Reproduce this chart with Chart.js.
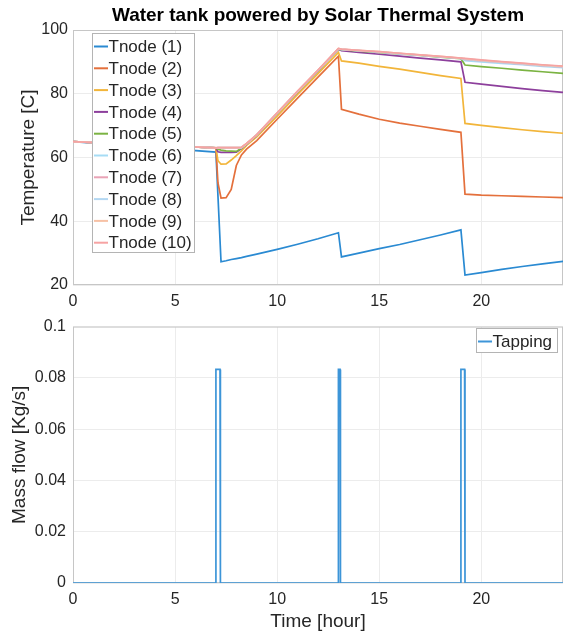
<!DOCTYPE html>
<html>
<head>
<meta charset="utf-8">
<script src="https://cdn.jsdelivr.net/npm/chart.js@4"></script>
<style>
  body { margin: 0; background: #fff; }
  .wrap { position: relative; width: 563px; height: 639px; }
  canvas { position: absolute; left: 0; }
  #temp-canvas { top: 0; }
  #flow-canvas { top: 310px; }
</style>
</head>
<body>
<div class="wrap">
  <canvas id="temp-canvas" width="563" height="310"></canvas>
  <canvas id="flow-canvas" width="563" height="329"></canvas>
</div>
<script>
// time grid shared by all tank nodes (hours)
const hours = [0, 7, 7.1, 7.25, 7.5, 7.75, 8, 8.25, 8.5, 9, 10, 11, 12, 13, 13.15, 14, 15, 16, 17, 18, 19, 19.2, 20, 21, 22, 23, 24]

// node temperatures [C]
const tnode1 = [65.0, 61.7, 47.9, 27.3, 27.6, 28.0, 28.3, 28.6, 29.0, 29.7, 31.2, 32.8, 34.5, 36.4, 28.8, 30.0, 31.4, 32.7, 34.2, 35.7, 37.3, 23.1, 23.9, 24.9, 25.8, 26.6, 27.4]
const tnode2 = [65.0, 63.0, 52.0, 47.3, 47.4, 50.0, 57.5, 60.8, 62.6, 65.3, 72.0, 78.6, 85.2, 91.8, 75.1, 73.6, 72.0, 70.8, 69.8, 68.8, 67.9, 48.5, 48.2, 48.0, 47.8, 47.6, 47.4]
const tnode3 = [65.0, 63.0, 59.0, 57.9, 58.0, 59.2, 60.6, 62.1, 63.8, 66.5, 73.0, 79.8, 86.3, 93.0, 90.3, 89.6, 88.6, 87.7, 86.7, 85.7, 84.8, 70.7, 70.1, 69.4, 68.7, 68.1, 67.6]
const tnode4 = [65.0, 63.0, 61.8, 61.6, 61.6, 61.6, 61.7, 62.8, 64.2, 67.0, 73.8, 80.6, 87.2, 94.0, 93.5, 93.0, 92.4, 91.8, 91.2, 90.6, 90.0, 83.6, 83.0, 82.3, 81.6, 81.0, 80.4]
const tnode5 = [65.0, 63.0, 62.6, 62.3, 62.1, 62.0, 61.9, 62.9, 64.2, 67.0, 73.8, 80.6, 87.2, 94.0, 93.8, 93.4, 93.0, 92.5, 92.0, 91.5, 91.0, 89.0, 88.5, 88.0, 87.4, 86.9, 86.4]
const tnode6 = [65.0, 63.0, 63.0, 63.0, 63.0, 63.0, 63.0, 63.0, 64.3, 67.1, 73.9, 80.7, 87.3, 94.1, 93.9, 93.5, 93.1, 92.6, 92.1, 91.6, 91.1, 90.4, 90.0, 89.5, 89.1, 88.6, 88.2]
const tnode7 = [65.0, 63.0, 63.1, 63.1, 63.1, 63.1, 63.1, 63.1, 64.3, 67.1, 73.9, 80.7, 87.3, 94.1, 93.9, 93.5, 93.1, 92.6, 92.1, 91.6, 91.1, 90.8, 90.3, 89.8, 89.3, 88.8, 88.4]
const tnode8 = [65.0, 63.0, 63.1, 63.1, 63.1, 63.1, 63.1, 63.1, 64.3, 67.1, 73.9, 80.7, 87.3, 94.1, 93.9, 93.5, 93.1, 92.6, 92.1, 91.6, 91.1, 90.9, 90.4, 89.9, 89.4, 88.9, 88.5]
const tnode9 = [65.0, 63.0, 63.1, 63.1, 63.1, 63.1, 63.1, 63.2, 64.4, 67.2, 74.0, 80.8, 87.4, 94.2, 94.0, 93.6, 93.2, 92.7, 92.2, 91.7, 91.2, 91.0, 90.5, 90.0, 89.5, 89.0, 88.6]
const tnode10 = [65.0, 63.0, 63.1, 63.1, 63.1, 63.1, 63.1, 63.2, 64.4, 67.2, 74.0, 80.8, 87.4, 94.2, 94.0, 93.6, 93.2, 92.7, 92.2, 91.7, 91.2, 91.1, 90.6, 90.1, 89.6, 89.1, 88.7]

const nodeLabels = ['Tnode (1)', 'Tnode (2)', 'Tnode (3)', 'Tnode (4)', 'Tnode (5)', 'Tnode (6)', 'Tnode (7)', 'Tnode (8)', 'Tnode (9)', 'Tnode (10)']
const nodeColors = ['#2a8ad2', '#e4703c', '#f2b53a', '#8d3f9c', '#7bb342', '#a6dcf5', '#e9a3b6', '#b3d7f2', '#f7c1a5', '#f6a3a3']
const nodeSeries = [tnode1, tnode2, tnode3, tnode4, tnode5, tnode6, tnode7, tnode8, tnode9, tnode10]

// tapping profile
const tapHours = [0, 6.98, 7.0, 7.2, 7.22, 12.98, 13.0, 13.08, 13.1, 18.98, 19.0, 19.18, 19.2, 24]
const tapFlow = [0, 0, 0.0833, 0.0833, 0, 0, 0.0833, 0.0833, 0, 0, 0.0833, 0.0833, 0, 0]

const tempTicks = [20, 40, 60, 80, 100]
const flowTicks = [0, 0.02, 0.04, 0.06, 0.08, 0.1]
const timeTicks = [0, 5, 10, 15, 20]

const FONT = '"Liberation Sans", Arial, sans-serif'
const TXT = '#262626'

// axes box (matlab style)
const frame = {
  id: 'frame',
  beforeDatasetsDraw(chart) {
    const { ctx, chartArea: a } = chart
    ctx.save()
    ctx.strokeStyle = '#c6c6c6'
    ctx.lineWidth = 1
    ctx.strokeRect(a.left + 0.5, a.top + 0.5, a.right - a.left - 1, a.bottom - a.top - 1)
    ctx.restore()
  },
}

// legend drawn inside the axes with a border
const boxLegend = {
  id: 'boxLegend',
  afterDatasetsDraw(chart, args, opts) {
    const ctx = chart.ctx
    ctx.save()
    ctx.fillStyle = '#fff'
    ctx.fillRect(opts.x, opts.y, opts.w, opts.h)
    ctx.strokeStyle = '#b4b4b4'
    ctx.lineWidth = 1
    ctx.strokeRect(opts.x + 0.5, opts.y + 0.5, opts.w, opts.h)
    ctx.font = '17px ' + FONT
    ctx.textBaseline = 'middle'
    chart.data.datasets.forEach((ds, i) => {
      const y = opts.first + i * opts.rowH
      ctx.strokeStyle = ds.borderColor
      ctx.lineWidth = 2
      ctx.beginPath()
      ctx.moveTo(opts.x + 2, y)
      ctx.lineTo(opts.x + 16, y)
      ctx.stroke()
      ctx.fillStyle = TXT
      ctx.fillText(ds.label, opts.x + 16.5, y + 1)
    })
    ctx.restore()
  },
}

function pts(xs, ys) {
  return xs.map((x, i) => ({ x: x, y: ys[i] }))
}

function xScale(height, withTitle) {
  return {
    type: 'linear',
    min: 0,
    max: 24,
    afterBuildTicks: (s) => { s.ticks = timeTicks.map((v) => ({ value: v })) },
    ticks: { color: TXT, font: { family: FONT, size: 16 }, padding: 7, maxRotation: 0 },
    grid: { color: '#ececec', drawTicks: false },
    border: { display: false },
    title: withTitle
      ? { display: true, text: 'Time [hour]', color: TXT, font: { family: FONT, size: 19 }, padding: { top: 0, bottom: 6 } }
      : { display: false },
    afterFit: (s) => { s.height = height },
  }
}

// Temperature chart
new Chart(document.getElementById('temp-canvas'), {
  type: 'line',
  data: {
    datasets: nodeSeries.map((vals, i) => ({
      label: nodeLabels[i],
      data: pts(hours, vals),
      borderColor: nodeColors[i],
      backgroundColor: nodeColors[i],
      borderWidth: 1.7,
      pointRadius: 0,
      tension: 0,
      order: nodeSeries.length - i,
    })),
  },
  options: {
    responsive: false,
    animation: false,
    layout: { padding: 0 },
    plugins: {
      legend: { display: false },
      tooltip: { enabled: false },
      title: {
        display: true,
        fullSize: false,
        text: 'Water tank powered by Solar Thermal System',
        color: '#000',
        font: { family: FONT, size: 19, weight: 'bold' },
        padding: { top: 4, bottom: 3.2 },
      },
      boxLegend: { x: 92, y: 33, w: 102, h: 219, first: 46.5, rowH: 21.8 },
    },
    scales: {
      x: xScale(25, false),
      y: {
        min: 20,
        max: 100,
        afterBuildTicks: (s) => { s.ticks = tempTicks.map((v) => ({ value: v })) },
        ticks: { color: TXT, font: { family: FONT, size: 16 }, padding: 5 },
        grid: { color: '#ececec', drawTicks: false },
        border: { display: false },
        title: { display: true, text: 'Temperature [C]', color: TXT, font: { family: FONT, size: 19 }, padding: { top: 17.5, bottom: 0 } },
        afterFit: (s) => { s.width = 73 },
      },
    },
  },
  plugins: [frame, boxLegend],
})

// Mass flow chart
new Chart(document.getElementById('flow-canvas'), {
  type: 'line',
  data: {
    datasets: [
      {
        label: 'Tapping',
        data: pts(tapHours, tapFlow),
        borderColor: '#3d95d8',
        backgroundColor: '#3d95d8',
        borderWidth: 1.7,
        pointRadius: 0,
        tension: 0,
      },
    ],
  },
  options: {
    responsive: false,
    animation: false,
    layout: { padding: { top: 12, left: 0, right: 0, bottom: 0 } },
    plugins: {
      legend: { display: false },
      tooltip: { enabled: false },
      boxLegend: { x: 476, y: 18, w: 81, h: 24, first: 31.5, rowH: 0 },
    },
    scales: {
      x: xScale(56, true),
      y: {
        min: 0,
        max: 0.1,
        afterBuildTicks: (s) => { s.ticks = flowTicks.map((v) => ({ value: v })) },
        ticks: {
          color: TXT,
          font: { family: FONT, size: 16 },
          padding: 7,
          callback: (v) => String(+v.toFixed(2)),
        },
        grid: { color: '#ececec', drawTicks: false },
        border: { display: false },
        title: { display: true, text: 'Mass flow [Kg/s]', color: TXT, font: { family: FONT, size: 19 }, padding: { top: 8.6, bottom: 0 } },
        afterFit: (s) => { s.width = 73 },
      },
    },
  },
  plugins: [frame, boxLegend],
})
</script>
</body>
</html>
